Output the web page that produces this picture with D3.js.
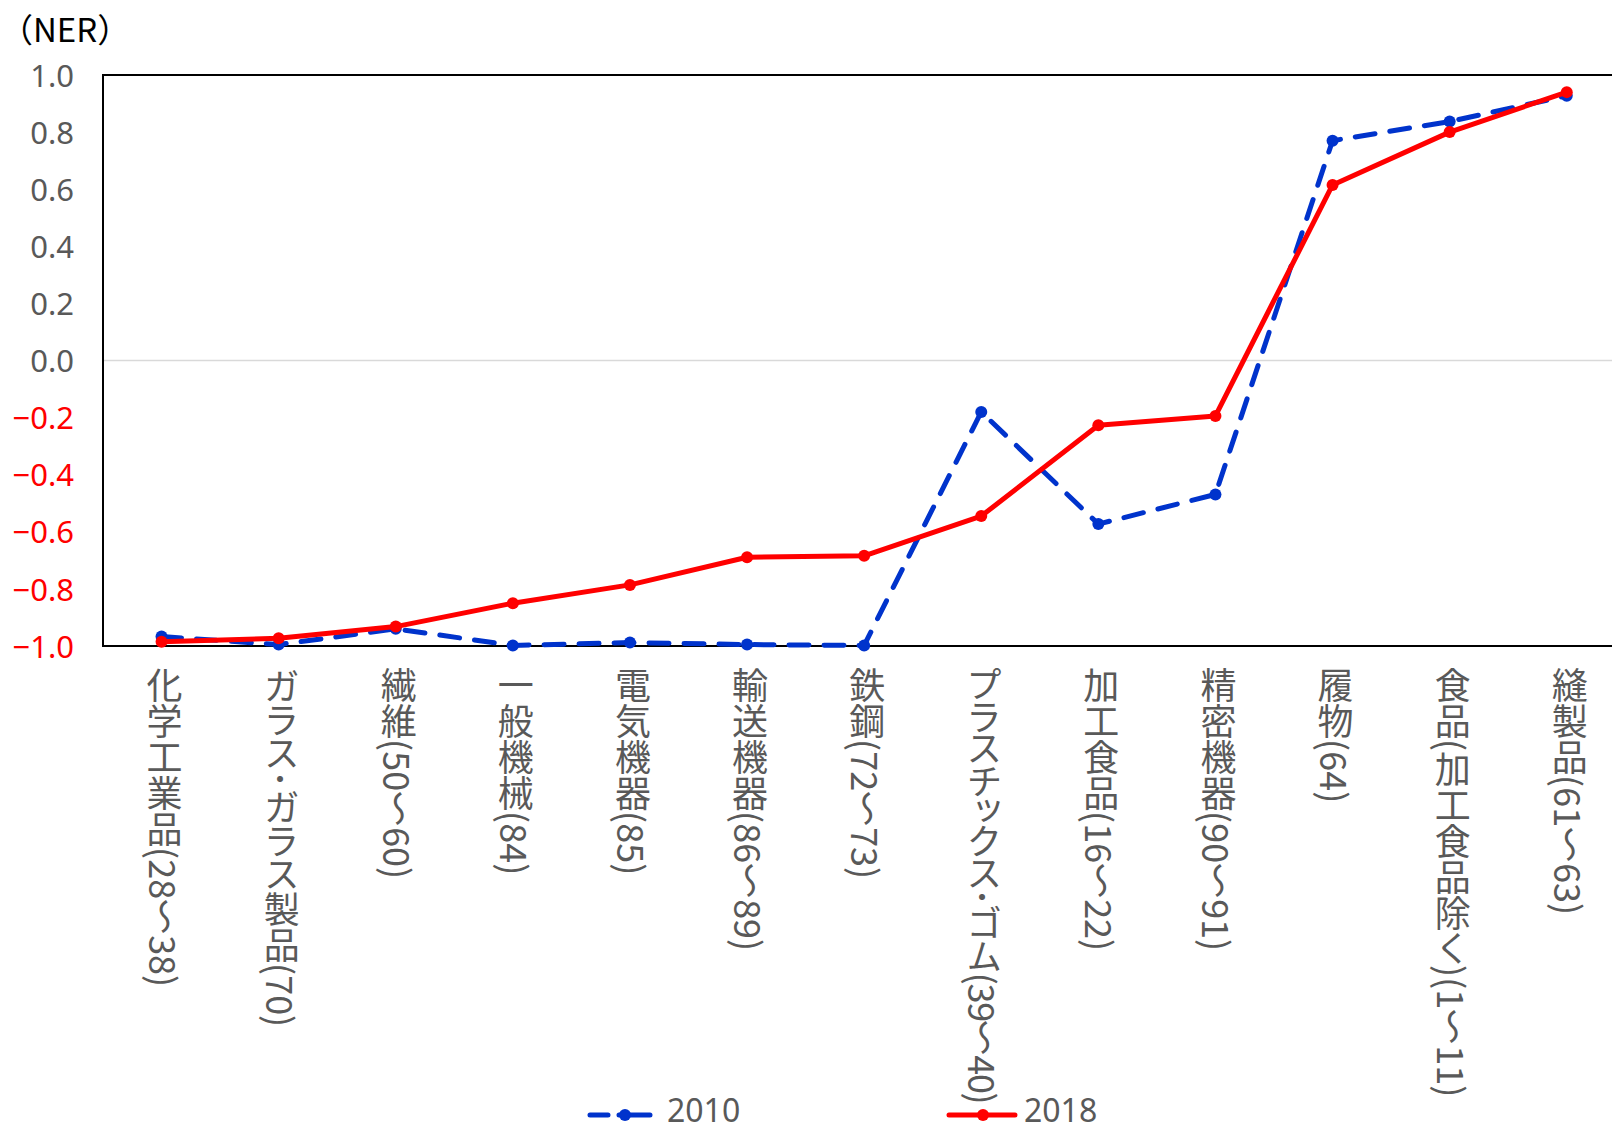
<!DOCTYPE html>
<html><head><meta charset="utf-8">
<script src="https://cdn.jsdelivr.net/npm/d3@7"></script>
<style>
html,body{margin:0;padding:0;background:#fff;}
svg{display:block;}
</style></head>
<body><svg id="chart" width="1612" height="1132"></svg>
<script>
const categories = ["化学工業品(28～38)","ガラス･ガラス製品(70)","繊維(50～60)","一般機械(84)","電気機器(85)","輸送機器(86～89)","鉄鋼(72～73)","プラスチックス･ゴム(39～40)","加工食品(16～22)","精密機器(90～91)","履物(64)","食品(加工食品除く)(1～11)","縫製品(61～63)"];
const values2010 = [-0.967,-0.995,-0.94,-0.998,-0.988,-0.995,-0.998,-0.18,-0.573,-0.469,0.77,0.837,0.927];
const values2018 = [-0.985,-0.973,-0.932,-0.85,-0.786,-0.689,-0.684,-0.545,-0.227,-0.194,0.615,0.80,0.94];
const yTicks = [1.0,0.8,0.6,0.4,0.2,0.0,-0.2,-0.4,-0.6,-0.8,-1.0];
const seriesNames = ["2010","2018"];

const svg = d3.select("#chart");
const L = 103, T = 75, B = 646, band = 117.1;
const x = d3.scaleBand().domain(categories).range([L, L + band*categories.length]).padding(0);
const y = d3.scaleLinear().domain([-1,1]).range([B, T]);
const cx = d => x(d) + x.bandwidth()/2;

// zero gridline
svg.append("line").attr("x1",L).attr("x2",1612).attr("y1",y(0)).attr("y2",y(0))
  .attr("stroke","#d9d9d9").attr("stroke-width",1.5);

// frame
svg.append("path").attr("d",`M1612,${T}H${L}V${B}H1612`).attr("fill","none")
  .attr("stroke","#000").attr("stroke-width",2);

// y axis labels
const fmt = v => (v<0? "\u2212" : "") + Math.abs(v).toFixed(1);
const yAxis = d3.axisLeft(y).tickValues(yTicks).tickFormat(fmt).tickSize(0).tickPadding(0);
const ga = svg.append("g").attr("transform",`translate(74,0)`).call(yAxis);
ga.select(".domain").remove();
ga.selectAll("text").attr("font-family","'Noto Sans','Noto Sans CJK JP',sans-serif")
  .attr("font-size",31).attr("fill",d=>d<0?"#ff0000":"#595959").attr("dy","0.36em");

// title
svg.append("text").attr("x",0).attr("y",42).text("（NER）")
  .attr("font-family","'Noto Sans CJK JP',sans-serif").attr("font-size",33).attr("fill","#000");

// category labels (vertical)
svg.append("g").selectAll("text").data(categories).join("text")
  .attr("x",d=>cx(d)+3).attr("y",667)
  .attr("style",d=>"writing-mode: vertical-rl; text-orientation: mixed; font-feature-settings: 'vpal';" +
        (d.indexOf("ゴム")>=0 ? " letter-spacing:-1.4px;" : ""))
  .attr("font-family","'Noto Sans CJK JP',sans-serif").attr("font-size",36)
  .attr("fill","#595959").text(d=>d);

// lines
const line = vals => d3.line().x((v,i)=>cx(categories[i])).y(v=>y(v))(vals);
const blue = "#0033cc", red = "#ff0000";
svg.append("path").attr("d",line(values2010)).attr("fill","none").attr("stroke",blue)
  .attr("stroke-width",5).attr("stroke-dasharray","20,15").attr("stroke-linecap","round");
svg.append("g").selectAll("circle").data(values2010).join("circle")
  .attr("cx",(v,i)=>cx(categories[i])).attr("cy",v=>y(v)).attr("r",6).attr("fill",blue);
svg.append("path").attr("d",line(values2018)).attr("fill","none").attr("stroke",red)
  .attr("stroke-width",5).attr("stroke-linejoin","round");
svg.append("g").selectAll("circle").data(values2018).join("circle")
  .attr("cx",(v,i)=>cx(categories[i])).attr("cy",v=>y(v)).attr("r",6).attr("fill",red);

// legend
const ly = 1115;
const lg = svg.append("g");
lg.append("path").attr("d",`M590,${ly}H608M619,${ly}H650`).attr("stroke",blue).attr("stroke-width",5)
  .attr("stroke-linecap","round");
lg.append("circle").attr("cx",625).attr("cy",ly).attr("r",6).attr("fill",blue);
lg.append("text").attr("x",667).attr("y",1122).text(seriesNames[0])
  .attr("font-family","'Noto Sans',sans-serif").attr("font-size",32).attr("fill","#595959");
lg.append("path").attr("d",`M949,${ly}H1015`).attr("stroke",red).attr("stroke-width",5).attr("stroke-linecap","round");
lg.append("circle").attr("cx",983).attr("cy",ly).attr("r",6).attr("fill",red);
lg.append("text").attr("x",1024).attr("y",1122).text(seriesNames[1])
  .attr("font-family","'Noto Sans',sans-serif").attr("font-size",32).attr("fill","#595959");
</script></body></html>
